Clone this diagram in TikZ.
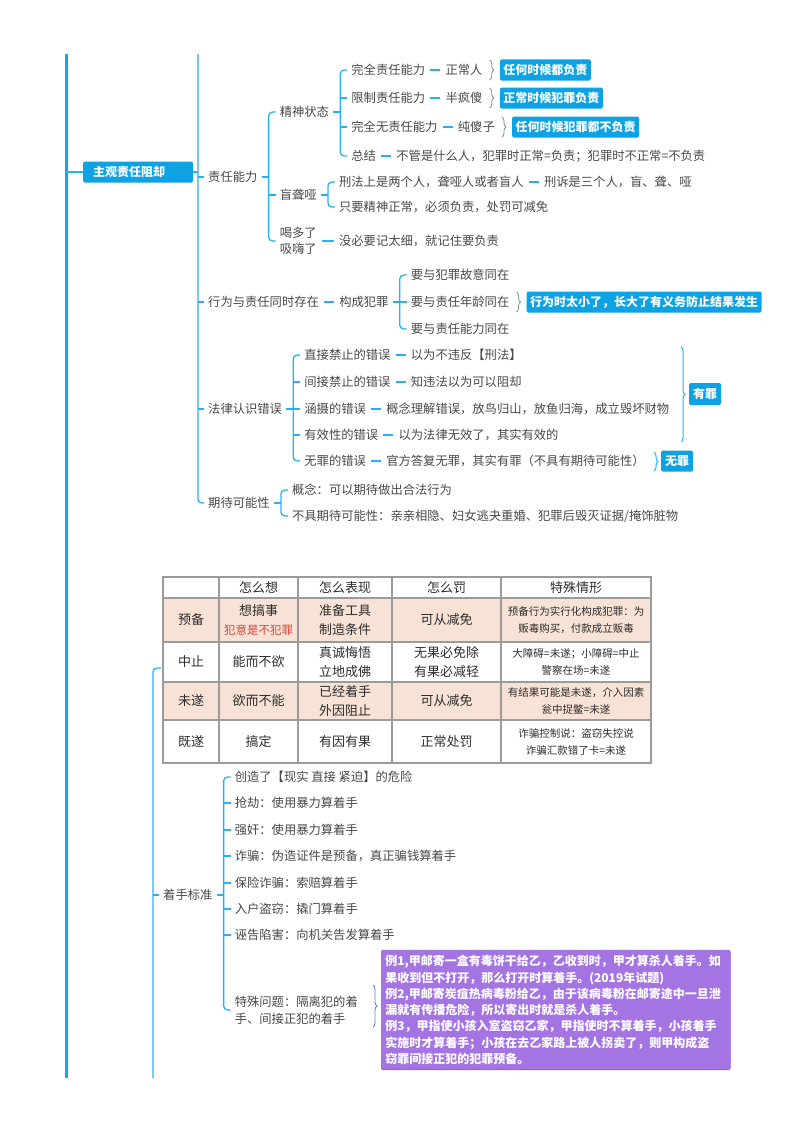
\documentclass[tikz,border=0pt]{standalone}
\usepackage{fontspec}
\setmainfont{Noto Sans CJK SC}
\usetikzlibrary{decorations.pathreplacing,positioning,calc}
\definecolor{lblue}{RGB}{38,178,240}
\definecolor{mblue}{RGB}{20,166,236}
\definecolor{bblue}{RGB}{12,162,228}
\definecolor{tgray}{RGB}{72,72,72}
\definecolor{bgray}{RGB}{120,150,140}
\definecolor{pfill}{RGB}{163,116,226}
\definecolor{pdraw}{RGB}{140,95,212}
\definecolor{peach}{RGB}{247,226,213}
\definecolor{grid}{RGB}{155,155,155}
\definecolor{redt}{RGB}{212,72,62}
\definecolor{tdark}{RGB}{45,45,45}
\begin{document}
\begin{tikzpicture}[x=1pt,y=-1pt,
  txt/.style={anchor=west, inner sep=2pt, text=tgray, font=\fontsize{12.3}{16}\selectfont},
  br/.style={draw=lblue, line width=1.3pt},
  tk/.style={draw=lblue, line width=1.3pt, shorten >=2pt},
  dashc/.style={draw=lblue, line width=1.3pt, shorten <=3pt, shorten >=3pt},
  lbl/.style={anchor=west, fill=bblue, text=white, font=\bfseries\fontsize{12}{14}\selectfont, inner xsep=3.5pt, inner ysep=0pt, minimum height=21pt, rounded corners=1.5pt},
  mainbox/.style={anchor=west, fill=bblue, text=white, font=\bfseries\fontsize{12}{14}\selectfont, inner xsep=10pt, inner ysep=0pt, minimum height=21pt, text width=90pt, align=left, rounded corners=1.5pt},
  brc/.style={draw=bgray, line width=0.8pt, decorate, decoration={brace, amplitude=4pt}},
  brcb/.style={draw=lblue, line width=1pt, decorate, decoration={brace, amplitude=4pt}},
  brcp/.style={draw=pdraw!70!lblue, line width=0.9pt, decorate, decoration={brace, amplitude=4pt}},
  cell/.style={inner sep=1pt, text=tdark, font=\fontsize{13}{19}\selectfont, align=center},
  scell/.style={inner sep=1pt, text=tdark, font=\fontsize{10.5}{17}\selectfont, align=center},
  pbox/.style={anchor=west, fill=pfill, draw=pdraw, line width=0.6pt, rounded corners=2pt, text=white, font=\bfseries\fontsize{12}{16.3}\selectfont, text width=341pt, align=left, inner xsep=4pt, inner ysep=5pt}
]
\useasboundingbox (0,0) rectangle (800,1132);

% ---------- top level lines ----------
\coordinate (topA) at (66,54);
\coordinate (botA) at (66,1078);
\draw[draw=mblue, line width=3pt] (topA) -- (botA);
\node[mainbox] (root) at (83,172) {主观责任阻却};
\draw[br] (topA |- root.west) -- (root.west);

\coordinate (topB) at (198,54);
\node[txt] (zr) at (206,177) {责任能力};
\node[txt] (xw) at (206,302) {行为与责任同时存在};
\node[txt] (fl) at (206,409) {法律认识错误};
\node[txt] (qd) at (206,503) {期待可能性};
\draw[br] (root.east) -- (root.east -| topB);
\draw[br, rounded corners=4pt, shorten >=2pt] (topB) |- (qd.west);
\draw[tk] (topB |- zr.west) -- (zr.west);
\draw[tk] (topB |- xw.west) -- (xw.west);
\draw[tk] (topB |- fl.west) -- (fl.west);

% ---------- 责任能力 ----------
\coordinate (J1) at ($(zr.east)+(9,0)$);
\node[txt] (jszt) at ($(J1 |- 0,112)+(9,0)$) {精神状态};
\node[txt] (mly) at ($(J1 |- 0,195)+(9,0)$) {盲聋哑};
\node[txt, align=left] (hdl) at ($(J1 |- 0,241)+(9,0)$) {喝多了\\吸嗨了};
\draw[br, shorten <=2pt] (zr.east) -- (J1);
\draw[br, rounded corners=4pt, shorten >=2pt] (J1) |- (jszt.west);
\draw[br, rounded corners=4pt, shorten >=2pt] (J1) |- (hdl.west);
\draw[tk] (J1 |- mly.west) -- (mly.west);

% 精神状态
\coordinate (J2) at ($(jszt.east)+(9,0)$);
\node[txt] (a1) at ($(J2 |- 0,70)+(9,0)$) {完全责任能力};
\node[txt, right=16pt of a1] (a1b) {正常人};
\node[lbl, right=15pt of a1b] (k1) {任何时候都负责};
\node[txt] (a2) at ($(J2 |- 0,98)+(9,0)$) {限制责任能力};
\node[txt, right=16pt of a2] (a2b) {半疯傻};
\node[lbl, right=15pt of a2b] (k2) {正常时候犯罪负责};
\node[txt] (a3) at ($(J2 |- 0,127)+(9,0)$) {完全无责任能力};
\node[txt, right=16pt of a3] (a3b) {纯傻子};
\node[lbl, right=15pt of a3b] (k3) {任何时候犯罪都不负责};
\node[txt] (a4) at ($(J2 |- 0,156)+(9,0)$) {总结};
\node[txt, right=16pt of a4] (a4b) {不管是什么人，犯罪时正常=负责；犯罪时不正常=不负责};
\draw[br, shorten <=2pt] (jszt.east) -- (J2);
\draw[br, rounded corners=4pt, shorten >=2pt] (J2) |- (a1.west);
\draw[br, rounded corners=4pt, shorten >=2pt] (J2) |- (a4.west);
\draw[tk] (J2 |- a2.west) -- (a2.west);
\draw[tk] (J2 |- a3.west) -- (a3.west);
\draw[dashc] (a1.east) -- (a1b.west);
\draw[dashc] (a2.east) -- (a2b.west);
\draw[dashc] (a3.east) -- (a3b.west);
\draw[dashc] (a4.east) -- (a4b.west);
\draw[brc] ($(a1b.east)+(5,-10)$) -- ($(a1b.east)+(5,10)$);
\draw[brc] ($(a2b.east)+(5,-10)$) -- ($(a2b.east)+(5,10)$);
\draw[brc] ($(a3b.east)+(5,-10)$) -- ($(a3b.east)+(5,10)$);

% 盲聋哑
\coordinate (J3) at ($(mly.east)+(9,0)$);
\node[txt] (b1) at ($(J3 |- 0,182)+(9,0)$) {刑法上是两个人，聋哑人或者盲人};
\node[txt, right=16pt of b1] (b1b) {刑诉是三个人，盲、聋、哑};
\node[txt] (b2) at ($(J3 |- 0,207)+(9,0)$) {只要精神正常，必须负责，处罚可减免};
\draw[br, shorten <=2pt] (mly.east) -- (J3);
\draw[br, rounded corners=4pt, shorten >=2pt] (J3) |- (b1.west);
\draw[br, rounded corners=4pt, shorten >=2pt] (J3) |- (b2.west);
\draw[dashc] (b1.east) -- (b1b.west);

% 喝多了
\node[txt] (c1) at ($(hdl.east)+(18,0)$) {没必要记太细，就记住要负责};
\draw[dashc] (hdl.east) -- (c1.west);

% ---------- 行为与责任同时存在 ----------
\node[txt, right=16pt of xw] (xwb) {构成犯罪};
\draw[dashc] (xw.east) -- (xwb.west);
\coordinate (J5) at ($(xwb.east)+(9,0)$);
\node[txt] (d1) at ($(J5 |- 0,275)+(9,0)$) {要与犯罪故意同在};
\node[txt] (d2) at ($(J5 |- 0,302)+(9,0)$) {要与责任年龄同在};
\node[txt] (d3) at ($(J5 |- 0,329)+(9,0)$) {要与责任能力同在};
\node[lbl, right=15pt of d2] (k4) {行为时太小了，长大了有义务防止结果发生};
\draw[br, shorten <=2pt] (xwb.east) -- (J5);
\draw[br, rounded corners=4pt, shorten >=2pt] (J5) |- (d1.west);
\draw[br, rounded corners=4pt, shorten >=2pt] (J5) |- (d3.west);
\draw[tk] (J5 |- d2.west) -- (d2.west);
\draw[brc] ($(d2.east)+(5,-10)$) -- ($(d2.east)+(5,10)$);

% ---------- 法律认识错误 ----------
\coordinate (J6) at ($(fl.east)+(9,0)$);
\node[txt] (e1) at ($(J6 |- 0,355)+(9,0)$) {直接禁止的错误};
\node[txt, right=16pt of e1] (e1b) {以为不违反【刑法】};
\node[txt] (e2) at ($(J6 |- 0,382)+(9,0)$) {间接禁止的错误};
\node[txt, right=16pt of e2] (e2b) {知违法以为可以阻却};
\node[txt] (e3) at ($(J6 |- 0,409)+(9,0)$) {涵摄的错误};
\node[txt, right=16pt of e3] (e3b) {概念理解错误，放鸟归山，放鱼归海，成立毁坏财物};
\node[txt] (e4) at ($(J6 |- 0,435)+(9,0)$) {有效性的错误};
\node[txt, right=16pt of e4] (e4b) {以为法律无效了，其实有效的};
\node[txt] (e5) at ($(J6 |- 0,461)+(9,0)$) {无罪的错误};
\node[txt, right=16pt of e5] (e5b) {官方答复无罪，其实有罪（不具有期待可能性）};
\draw[br, shorten <=2pt] (fl.east) -- (J6);
\draw[br, rounded corners=4pt, shorten >=2pt] (J6) |- (e1.west);
\draw[br, rounded corners=4pt, shorten >=2pt] (J6) |- (e5.west);
\draw[tk] (J6 |- e2.west) -- (e2.west);
\draw[tk] (J6 |- e3.west) -- (e3.west);
\draw[tk] (J6 |- e4.west) -- (e4.west);
\draw[dashc] (e1.east) -- (e1b.west);
\draw[dashc] (e2.east) -- (e2b.west);
\draw[dashc] (e3.east) -- (e3b.west);
\draw[dashc] (e4.east) -- (e4b.west);
\draw[dashc] (e5.east) -- (e5b.west);
\node[lbl, inner xsep=4pt, minimum height=22pt] (yz) at (689,394) {有罪};
\draw[brcb] (681,347) -- (681,442);
\node[lbl, inner xsep=4pt, minimum height=21pt] (wz) at (661,461) {无罪};
\draw[brcb] (654,452) -- (654,471);

% ---------- 期待可能性 ----------
\coordinate (J7) at ($(qd.east)+(9,0)$);
\node[txt] (f1) at ($(J7 |- 0,490)+(9,0)$) {概念：可以期待做出合法行为};
\node[txt] (f2) at ($(J7 |- 0,516)+(9,0)$) {不具期待可能性：亲亲相隐、妇女逃夬重婚、犯罪后毁灭证据/掩饰脏物};
\draw[br, shorten <=2pt] (qd.east) -- (J7);
\draw[br, rounded corners=4pt, shorten >=2pt] (J7) |- (f1.west);
\draw[br, rounded corners=4pt, shorten >=2pt] (J7) |- (f2.west);

% ---------- table ----------
\fill[peach] (163,598) rectangle (651,642);
\fill[peach] (163,682) rectangle (651,720);
\foreach \yy in {598,642,682,720} \draw[grid, line width=1.1pt] (163,\yy) -- (651,\yy);
\foreach \xx in {219,298,392,501} \draw[grid, line width=1.1pt] (\xx,577) -- (\xx,763);
\draw[grid, line width=1.4pt] (163,577) rectangle (651,763);

\node[cell] (h1) at (258.5,587.5) {怎么想};
\node[cell] (h2) at (345,587.5) {怎么表现};
\node[cell] (h3) at (446.5,587.5) {怎么罚};
\node[cell] (h4) at (576,587.5) {特殊情形};

\node[cell] (r1) at (191,620) {预备};
\node[cell] (r1a) at (258.5,620) {想搞事\\\textcolor{redt}{\fontsize{11.5}{19}\selectfont 犯意是不犯罪}};
\node[cell] (r1b) at (345,620) {准备工具\\制造条件};
\node[cell] (r1c) at (446.5,620) {可从减免};
\node[scell] (r1d) at (576,620) {预备行为实行化构成犯罪：为\\贩毒购买，付款成立贩毒};

\node[cell] (r2) at (191,662) {中止};
\node[cell] (r2a) at (258.5,662) {能而不欲};
\node[cell] (r2b) at (345,662) {真诚悔悟\\立地成佛};
\node[cell] (r2c) at (446.5,662) {无果必免除\\有果必减轻};
\node[scell] (r2d) at (576,662) {大障碍=未遂；小障碍=中止\\警察在场=未遂};

\node[cell] (r3) at (191,701) {未遂};
\node[cell] (r3a) at (258.5,701) {欲而不能};
\node[cell] (r3b) at (345,701) {已经着手\\外因阻止};
\node[cell] (r3c) at (446.5,701) {可从减免};
\node[scell] (r3d) at (576,701) {有结果可能是未遂，介入因素\\瓮中捉鳖=未遂};

\node[cell] (r4) at (191,741.5) {既遂};
\node[cell] (r4a) at (258.5,741.5) {搞定};
\node[cell] (r4b) at (345,741.5) {有因有果};
\node[cell] (r4c) at (446.5,741.5) {正常处罚};
\node[scell] (r4d) at (576,741.5) {诈骗控制说：盗窃失控说\\诈骗汇款错了卡=未遂};

% ---------- section 2 lines ----------
\coordinate (tbl) at (161,668);
\coordinate (botC) at (153,1078);
\draw[br, rounded corners=4pt] (botC) |- (tbl);
\node[txt] (zs) at (161,895) {着手标准};
\draw[tk] (botC |- zs.west) -- (zs.west);

\coordinate (J8) at ($(zs.east)+(9,0)$);
\node[txt] (z1) at ($(J8 |- 0,777)+(9,0)$) {创造了【现实 直接 紧迫】的危险};
\node[txt] (z2) at ($(J8 |- 0,803)+(9,0)$) {抢劫：使用暴力算着手};
\node[txt] (z3) at ($(J8 |- 0,830)+(9,0)$) {强奸：使用暴力算着手};
\node[txt] (z4) at ($(J8 |- 0,856)+(9,0)$) {诈骗：伪造证件是预备，真正骗钱算着手};
\node[txt] (z5) at ($(J8 |- 0,883)+(9,0)$) {保险诈骗：索赔算着手};
\node[txt] (z6) at ($(J8 |- 0,909)+(9,0)$) {入户盗窃：撬门算着手};
\node[txt] (z7) at ($(J8 |- 0,935)+(9,0)$) {诬告陷害：向机关告发算着手};
\node[txt, align=left, font=\fontsize{12.3}{17}\selectfont] (z8) at ($(J8 |- 0,1010)+(9,0)$) {特殊问题：隔离犯的着\\手、间接正犯的着手};
\draw[br, shorten <=2pt] (zs.east) -- (J8);
\draw[br, rounded corners=4pt, shorten >=2pt] (J8) |- (z1.west);
\draw[br, rounded corners=4pt, shorten >=2pt] (J8) |- (z8.west);
\foreach \n in {z2,z3,z4,z5,z6,z7} \draw[tk] (J8 |- \n.west) -- (\n.west);

\node[pbox] (ex) at (381,1010) {例1,甲邮寄一盒有毒饼干给乙，乙收到时，甲才算杀人着手。如\\果收到但不打开，那么打开时算着手。(2019年试题)\\例2,甲邮寄炭疽热病毒粉给乙，由于该病毒粉在邮寄途中一旦泄\\漏就有传播危险，所以寄出时就是杀人着手。\\例3，甲指使小孩入室盗窃乙家，甲指使时不算着手，小孩着手\\实施时才算着手；小孩在去乙家路上被人拐卖了，则甲构成盗\\窃罪间接正犯的犯罪预备。};
\draw[brcp] (373,985) -- (373,1027);
\end{tikzpicture}
\end{document}
